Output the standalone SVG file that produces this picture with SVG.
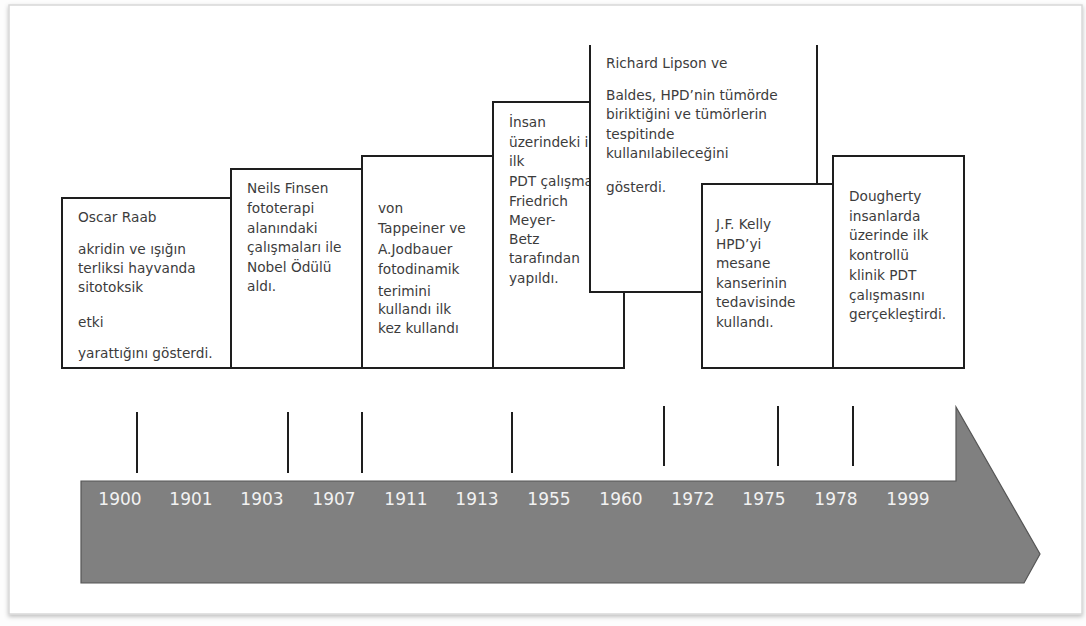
<svg xmlns="http://www.w3.org/2000/svg" width="1086" height="626" viewBox="0 0 1086 626">
<defs>
<filter id="sh" x="-2%" y="-2%" width="104%" height="105%">
<feDropShadow dx="0" dy="2" stdDeviation="2" flood-color="#000" flood-opacity="0.25"/>
</filter>
</defs>
<style>
.box{fill:#fff;stroke:#1e1e1e;stroke-width:2}
.t{font-family:"DejaVu Sans",Verdana,sans-serif;font-size:13.7px;fill:#3c3c3c}
.yr{font-family:"DejaVu Sans",Verdana,sans-serif;font-size:17px;fill:#f2f2f2;text-anchor:middle}
.tick{stroke:#1e1e1e;stroke-width:2}
</style>
<rect x="0" y="0" width="1086" height="626" fill="#fdfdfd"/>
<rect id="page" x="9" y="5" width="1073" height="609" fill="#fff" stroke="#d8d8d8" stroke-width="1.5" filter="url(#sh)"/>

<g id="timeline">
<polygon points="81,481 956,481 956,407 1040,554 1024,583 81,583" fill="#808080" stroke="#555" stroke-width="1.2"/>
<text class="yr" x="120" y="505">1900</text>
<text class="yr" x="191" y="505">1901</text>
<text class="yr" x="262" y="505">1903</text>
<text class="yr" x="334" y="505">1907</text>
<text class="yr" x="406" y="505">1911</text>
<text class="yr" x="477" y="505">1913</text>
<text class="yr" x="549" y="505">1955</text>
<text class="yr" x="621" y="505">1960</text>
<text class="yr" x="693" y="505">1972</text>
<text class="yr" x="764" y="505">1975</text>
<text class="yr" x="836" y="505">1978</text>
<text class="yr" x="908" y="505">1999</text>
</g>

<g id="connectors">
<line class="tick" x1="137" y1="412" x2="137" y2="473"/>
<line class="tick" x1="288" y1="412" x2="288" y2="473"/>
<line class="tick" x1="362" y1="412" x2="362" y2="473"/>
<line class="tick" x1="512" y1="412" x2="512" y2="473"/>
<line class="tick" x1="664" y1="406" x2="664" y2="466"/>
<line class="tick" x1="778" y1="406" x2="778" y2="466"/>
<line class="tick" x1="853" y1="406" x2="853" y2="466"/>
</g>

<g id="n1900">
<rect class="box" x="62" y="198" width="170" height="170"/>
<text class="t" x="78" y="222">Oscar Raab</text>
<text class="t" x="78" y="254">akridin ve ışığın</text>
<text class="t" x="78" y="273">terliksi hayvanda</text>
<text class="t" x="78" y="292">sitotoksik</text>
<text class="t" x="78" y="327">etki</text>
<text class="t" x="78" y="358">yarattığını gösterdi.</text>
</g>

<g id="n1903">
<rect class="box" x="231" y="169" width="131" height="199"/>
<text class="t" x="247" y="193">Neils Finsen</text>
<text class="t" x="247" y="213">fototerapi</text>
<text class="t" x="247" y="232.5">alanındaki</text>
<text class="t" x="247" y="252">çalışmaları ile</text>
<text class="t" x="247" y="271.5">Nobel Ödülü</text>
<text class="t" x="247" y="291">aldı.</text>
</g>

<g id="n1907">
<rect class="box" x="362" y="156" width="131" height="212"/>
<text class="t" x="378" y="213">von</text>
<text class="t" x="378" y="232.5">Tappeiner ve</text>
<text class="t" x="378" y="254">A.Jodbauer</text>
<text class="t" x="378" y="274">fotodinamik</text>
<text class="t" x="378" y="295.5">terimini</text>
<text class="t" x="378" y="314">kullandı ilk</text>
<text class="t" x="378" y="333">kez kullandı</text>
</g>

<g id="n1913">
<rect class="box" x="493" y="102" width="131" height="266"/>
<text class="t" x="509" y="127">İnsan</text>
<text class="t" x="509" y="147">üzerindeki i</text>
<text class="t" x="509" y="166">ilk</text>
<text class="t" x="509" y="185.5">PDT çalışma</text>
<text class="t" x="509" y="205.5">Friedrich</text>
<text class="t" x="509" y="224.5">Meyer-</text>
<text class="t" x="509" y="243.5">Betz</text>
<text class="t" x="509" y="263">tarafından</text>
<text class="t" x="509" y="282.5">yapıldı.</text>
</g>

<g id="n1960">
<rect x="590" y="45" width="227" height="247" fill="#fff"/>
<path d="M590,45 V292 H817 V45" fill="none" stroke="#1e1e1e" stroke-width="2"/>
<text class="t" x="606" y="68">Richard Lipson ve</text>
<text class="t" x="606" y="100">Baldes, HPD’nin tümörde</text>
<text class="t" x="606" y="119">biriktiğini ve tümörlerin</text>
<text class="t" x="606" y="138.5">tespitinde</text>
<text class="t" x="606" y="158">kullanılabileceğini</text>
<text class="t" x="606" y="191.5">gösterdi.</text>
</g>

<g id="n1975">
<rect class="box" x="702" y="184" width="131" height="184"/>
<text class="t" x="716" y="229">J.F. Kelly</text>
<text class="t" x="716" y="248.5">HPD’yi</text>
<text class="t" x="716" y="268">mesane</text>
<text class="t" x="716" y="287.5">kanserinin</text>
<text class="t" x="716" y="307">tedavisinde</text>
<text class="t" x="716" y="326.5">kullandı.</text>
</g>

<g id="n1978">
<rect class="box" x="833" y="156" width="131" height="212"/>
<text class="t" x="849" y="201">Dougherty</text>
<text class="t" x="849" y="220.5">insanlarda</text>
<text class="t" x="849" y="240">üzerinde ilk</text>
<text class="t" x="849" y="260">kontrollü</text>
<text class="t" x="849" y="280">klinik PDT</text>
<text class="t" x="849" y="299.5">çalışmasını</text>
<text class="t" x="849" y="318.5">gerçekleştirdi.</text>
</g>
</svg>
